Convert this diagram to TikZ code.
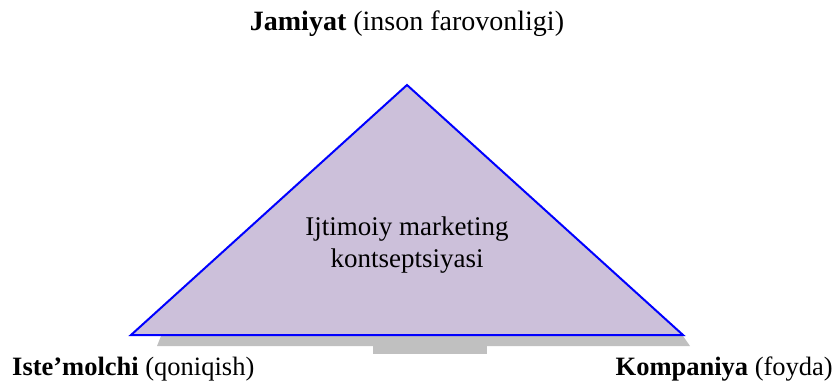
\documentclass[tikz,border=0pt]{standalone}
\usepackage{fontspec}
\setmainfont{Liberation Serif}
\definecolor{trifill}{HTML}{CCC0DA}
\definecolor{shadowgray}{HTML}{C0C0C0}
\begin{document}
\begin{tikzpicture}[x=1pt,y=-1pt,
  lbl/.style={inner sep=0pt,font=\fontsize{26.5}{32}\selectfont},
  ctr/.style={inner sep=0pt,align=center,font=\fontsize{27}{32}\selectfont}]
\useasboundingbox (0,0) rectangle (835,385);
% shadow
\fill[shadowgray] (161,336) -- (683,336) -- (690,346) -- (157,346) -- cycle;
\fill[shadowgray] (373,346) rectangle (487,354);
% triangle
\coordinate (top) at (407,85);
\coordinate (bl) at (131,335);
\coordinate (br) at (683,335);
\filldraw[fill=trifill,draw=blue,line width=2pt,line join=miter] (top) -- (br) -- (bl) -- cycle;
\node[ctr] (c) at (407,245) {Ijtimoiy marketing\\kontseptsiyasi};
\node[lbl,anchor=base,font=\fontsize{28}{34}\selectfont] (j) at (407,31) {\textbf{Jamiyat} (inson farovonligi)};
\node[lbl,anchor=base west] (i) at (12,375) {\textbf{Iste’molchi} (qoniqish)};
\node[lbl,anchor=base east] (k) at (833,375) {\textbf{Kompaniya} (foyda)};
\end{tikzpicture}
\end{document}
